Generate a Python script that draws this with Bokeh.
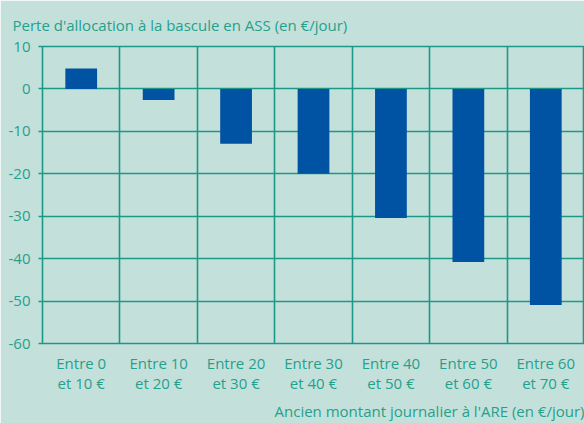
from bokeh.plotting import figure
from bokeh.models import FixedTicker, Title, Range1d
from bokeh.embed import file_html
from bokeh.resources import INLINE

categories = ["Entre 0\net 10 €", "Entre 10\net 20 €", "Entre 20\net 30 €", "Entre 30\net 40 €",
              "Entre 40\net 50 €", "Entre 50\net 60 €", "Entre 60\net 70 €"]
values = [4.8, -2.6, -12.9, -20.0, -30.4, -40.8, -50.9]
y_ticks = [-60, -50, -40, -30, -20, -10, 0, 10]
y_tick_labels = ["-60", "-50", "-40", "-30", "-20", "-10", "0", "10"]
title_text = "Perte d'allocation à la bascule en ASS (en €/jour)"
xlabel_text = "Ancien montant journalier à l'ARE (en €/jour)"

BG = "#c4e0db"
TEAL = "#24a08d"
GRID = "#1c9886"
BAR = "#0052a3"
FONT = "Open Sans"
FS = "15px"

n = len(categories)
xs = [i + 0.5 for i in range(n)]
y_lo, y_hi = y_ticks[0], y_ticks[-1]

p = figure(width=584, height=423, output_backend="svg", toolbar_location=None,
           x_range=Range1d(0, n), y_range=Range1d(y_lo, y_hi),
           min_border_left=42, min_border_right=0, min_border_top=46, min_border_bottom=79)

p.background_fill_color = BG
p.border_fill_color = BG
p.outline_line_color = GRID
p.outline_line_width = 1.6

p.vbar(x=xs, top=values, bottom=0, width=0.41, color=BAR, line_color=None)

# grids
p.xgrid.ticker = FixedTicker(ticks=list(range(n + 1)))
p.ygrid.ticker = FixedTicker(ticks=y_ticks)
for g in (p.xgrid, p.ygrid):
    g.grid_line_color = GRID
    g.grid_line_width = 1.6
    g.grid_line_alpha = 1.0

# x axis
xa = p.xaxis[0]
xa.ticker = FixedTicker(ticks=xs)
xa.major_label_overrides = {x: c for x, c in zip(xs, categories)}
xa.axis_line_color = None
xa.major_tick_line_color = None
xa.minor_tick_line_color = None
xa.major_label_standoff = 3
xa.major_label_text_color = TEAL
xa.major_label_text_font = FONT
xa.major_label_text_font_size = FS
xa.major_label_text_line_height = 1.0

# y axis
ya = p.yaxis[0]
ya.ticker = FixedTicker(ticks=y_ticks)
ya.major_label_overrides = {t: s for t, s in zip(y_ticks, y_tick_labels)}
ya.axis_line_color = None
ya.major_tick_line_color = GRID
ya.major_tick_line_width = 1.6
ya.major_tick_out = 4
ya.major_tick_in = 0
ya.minor_tick_line_color = None
ya.major_label_standoff = 8
ya.major_label_text_color = TEAL
ya.major_label_text_font = FONT
ya.major_label_text_font_size = FS

# title
p.title.text = title_text
p.title.align = "left"
p.title.vertical_align = "top"
p.title.offset = -30
p.title.standoff = 20
p.title.text_color = TEAL
p.title.text_font = FONT
p.title.text_font_size = FS
p.title.text_font_style = "normal"

p.add_layout(Title(text=xlabel_text, align="right", text_color=TEAL, text_font=FONT,
                   text_font_size=FS, text_font_style="normal", standoff=6), "below")

open("out.html", "w").write(file_html(p, INLINE))
